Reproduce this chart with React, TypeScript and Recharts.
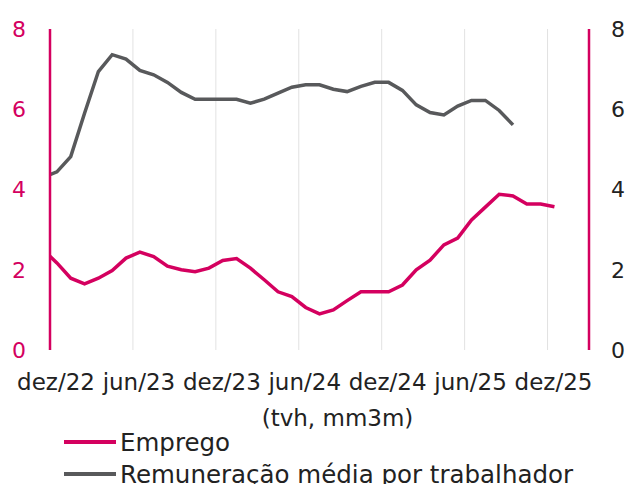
import React from 'react';
import { LineChart, Line, XAxis, YAxis, CartesianGrid } from 'recharts';

// monthly points, nov/22 .. dez/25 (nov/22 sits left of the axis and gets clipped)
const months = [
  'nov/22', 'dez/22', 'jan/23', 'fev/23', 'mar/23', 'abr/23', 'mai/23', 'jun/23', 'jul/23', 'ago/23', 'set/23', 'out/23', 'nov/23',
  'dez/23', 'jan/24', 'fev/24', 'mar/24', 'abr/24', 'mai/24', 'jun/24', 'jul/24', 'ago/24', 'set/24', 'out/24', 'nov/24',
  'dez/24', 'jan/25', 'fev/25', 'mar/25', 'abr/25', 'mai/25', 'jun/25', 'jul/25', 'ago/25', 'set/25', 'out/25', 'nov/25', 'dez/25',
];

const emprego = [
  2.5, 2.17, 1.79, 1.65, 1.79, 1.98, 2.29, 2.44, 2.33, 2.09, 2.0, 1.95, 2.04,
  2.23, 2.28, 2.04, 1.75, 1.45, 1.33, 1.06, 0.9, 1.0, 1.23, 1.45, 1.45,
  1.45, 1.62, 2.0, 2.24, 2.62, 2.79, 3.24, 3.56, 3.88, 3.84, 3.64, 3.64, 3.57,
];

const remuneracao = [
  4.3, 4.44, 4.82, 5.9, 6.94, 7.36, 7.25, 6.97, 6.86, 6.67, 6.42, 6.25, 6.25,
  6.25, 6.25, 6.15, 6.25, 6.4, 6.55, 6.61, 6.61, 6.5, 6.44, 6.57, 6.67,
  6.67, 6.47, 6.11, 5.92, 5.86, 6.08, 6.22, 6.22, 5.97, 5.61, null, null, null,
];

const tickLabels = ['dez/22', 'jun/23', 'dez/23', 'jun/24', 'dez/24', 'jun/25', 'dez/25'];
const xTicks = [0, 6, 12, 18, 24, 30, 36];
const yTicks = [0, 2, 4, 6, 8];

const MAGENTA = '#D4005F';
const GREY = '#58595B';
const FONT = '"DejaVu Sans", sans-serif';

// month index 0 = dez/22 start; points sit mid-month
const data = months.map((m, i) => ({
  mes: m,
  t: i - 0.5,
  emprego: emprego[i],
  remuneracao: remuneracao[i],
}));

const XTick = (props: any) => {
  const { x, y, payload } = props;
  const idx = xTicks.indexOf(payload.value);
  return (
    <text x={x + 6} y={y} dy={15.6} textAnchor="middle" fill="#222" fontSize={23} fontFamily={FONT}>
      {tickLabels[idx]}
    </text>
  );
};

const AxisTitle = (props: any) => {
  const vb = props.viewBox;
  return (
    <text x={vb.x + vb.width / 2 + 18} y={vb.y + 76} textAnchor="middle" fill="#222" fontSize={23} fontFamily={FONT}>
      (tvh, mm3m)
    </text>
  );
};

const legendItems = [
  { name: 'Emprego', color: MAGENTA },
  { name: 'Remuneração média por trabalhador', color: GREY },
];

export default function App() {
  return (
    <div style={{ position: 'absolute', left: 0, top: 0, width: 626, height: 484, overflow: 'hidden', background: '#fff' }}>
      <LineChart width={626} height={484} data={data} margin={{ top: 29, right: 0, left: 0, bottom: 0 }}>
        <CartesianGrid horizontal={false} stroke="#E2E2E2" strokeWidth={1} />
        <XAxis
          dataKey="t"
          type="number"
          domain={[0, 39]}
          ticks={xTicks}
          allowDataOverflow
          axisLine={false}
          tickLine={false}
          tickMargin={18}
          height={134}
          tick={<XTick />}
          interval={0}
          label={<AxisTitle />}
        />
        <YAxis
          yAxisId="left"
          orientation="left"
          width={50}
          domain={[0, 8]}
          ticks={yTicks}
          allowDataOverflow
          axisLine={{ stroke: MAGENTA, strokeWidth: 2.5 }}
          tickLine={false}
          tickMargin={18}
          tick={{ fill: MAGENTA, fontSize: 22, fontFamily: FONT }}
        />
        <YAxis
          yAxisId="right"
          orientation="right"
          width={37}
          domain={[0, 8]}
          ticks={yTicks}
          allowDataOverflow
          axisLine={{ stroke: MAGENTA, strokeWidth: 2.5 }}
          tickLine={false}
          tickMargin={16}
          tick={{ fill: '#222', fontSize: 22, fontFamily: FONT }}
        />
        <Line
          yAxisId="left"
          type="linear"
          dataKey="emprego"
          name="Emprego"
          stroke={MAGENTA}
          strokeWidth={3.5}
          dot={false}
          isAnimationActive={false}
        />
        <Line
          yAxisId="right"
          type="linear"
          dataKey="remuneracao"
          name="Remuneração média por trabalhador"
          stroke={GREY}
          strokeWidth={3.5}
          dot={false}
          connectNulls={false}
          isAnimationActive={false}
        />
      </LineChart>
      <div style={{ position: 'absolute', left: 64, top: 426, fontFamily: FONT, fontSize: 24.5, color: '#222' }}>
        {legendItems.map((it) => (
          <div key={it.name} style={{ display: 'flex', alignItems: 'center', height: 32, whiteSpace: 'nowrap' }}>
            <span style={{ display: 'inline-block', width: 52, height: 4, background: it.color, marginRight: 4 }} />
            <span>{it.name}</span>
          </div>
        ))}
      </div>
    </div>
  );
}
